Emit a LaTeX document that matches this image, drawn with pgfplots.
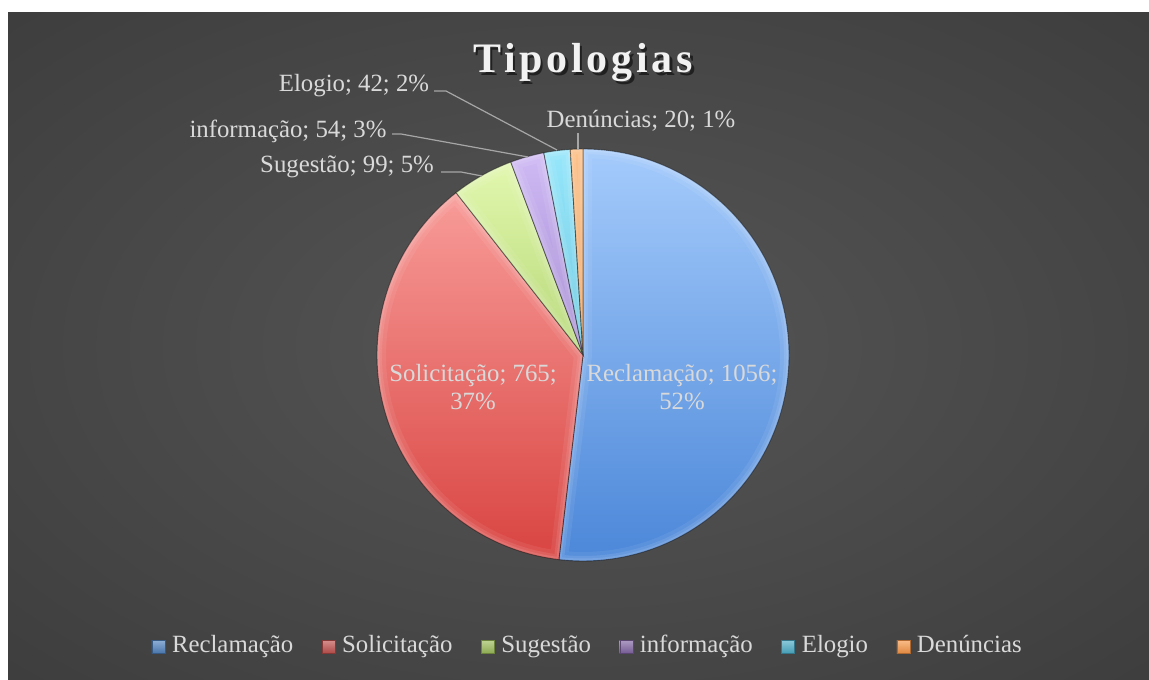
\documentclass[border=0pt]{standalone}
\usepackage{pgfplots}
\pgfplotsset{compat=1.18}
\usepackage{pgfplotstable}
\usepackage{fontspec}
\setmainfont{Liberation Serif}

\definecolor{lblc}{HTML}{D9D9D9}
\definecolor{leadc}{HTML}{A6A6A6}
\definecolor{titlec}{HTML}{F2F2F2}
\definecolor{bgA}{HTML}{565656}
\definecolor{bgB}{HTML}{3E3E3E}
\definecolor{bgC}{HTML}{262626}
% slice gradients (top, bottom)
\definecolor{blT}{HTML}{A6CCFC}\definecolor{blB}{HTML}{4A86D8}
\definecolor{rdT}{HTML}{FCA8A5}\definecolor{rdB}{HTML}{D8423F}
\definecolor{grT}{HTML}{E6FBB4}\definecolor{grB}{HTML}{86B43A}
\definecolor{puT}{HTML}{D2BDF6}\definecolor{puB}{HTML}{7454AC}
\definecolor{cyT}{HTML}{9AE8FC}\definecolor{cyB}{HTML}{28A4C4}
\definecolor{orT}{HTML}{FCC086}\definecolor{orB}{HTML}{DE7620}
% legend colours (Office palette)
\definecolor{oblue}{HTML}{4F81BD}
\definecolor{ored}{HTML}{C0504D}
\definecolor{ogreen}{HTML}{9BBB59}
\definecolor{opurple}{HTML}{8064A2}
\definecolor{ocyan}{HTML}{4BACC6}
\definecolor{oorange}{HTML}{F79646}

\pgfdeclareradialshading{bgshade}{\pgfpoint{0bp}{0bp}}{color(0bp)=(bgA); color(35bp)=(bgB); color(72bp)=(bgC)}

\newcommand\lblfont{\fontsize{12.4}{14.2}\selectfont}

\pgfplotstableread{
name value
Reclamação 1056
Solicitação 765
Sugestão 99
informação 54
Elogio 42
Denúncias 20
}\tipdata

\newcommand\slicepath[2]{(583,324) -- ++(#1:103pt) arc[start angle=#1,end angle=#2,radius=103pt] -- cycle}
\newcommand\pieslice[4]{%
  \begin{scope}
    \clip \slicepath{#1}{#2};
    \shade[top color=#3,bottom color=#4] (370,112) rectangle (796,536);
    \draw[white,opacity=0.07,line width=9pt] \slicepath{#1}{#2};
    \draw[white,opacity=0.09,line width=5pt] \slicepath{#1}{#2};
    \draw[white,opacity=0.10,line width=2.5pt] \slicepath{#1}{#2};
  \end{scope}
  \draw[black,opacity=0.45,line width=0.45pt] \slicepath{#1}{#2};
}

\pgfplotsset{lgimg/.style={legend image code/.code={%
  \shade[top color=#1!65!white,bottom color=#1!90!black,draw=#1!70!black,line width=0.2pt] (0pt,-3.3pt) rectangle (6.5pt,3.3pt);}}}

\begin{document}
\begin{tikzpicture}
\pgfplotstablegetelem{0}{value}\of\tipdata \pgfmathsetmacro\vA{\pgfplotsretval}
\pgfplotstablegetelem{1}{value}\of\tipdata \pgfmathsetmacro\vB{\pgfplotsretval}
\pgfplotstablegetelem{2}{value}\of\tipdata \pgfmathsetmacro\vC{\pgfplotsretval}
\pgfplotstablegetelem{3}{value}\of\tipdata \pgfmathsetmacro\vD{\pgfplotsretval}
\pgfplotstablegetelem{4}{value}\of\tipdata \pgfmathsetmacro\vE{\pgfplotsretval}
\pgfplotstablegetelem{5}{value}\of\tipdata \pgfmathsetmacro\vF{\pgfplotsretval}
\pgfmathsetmacro\tot{\vA+\vB+\vC+\vD+\vE+\vF}
\pgfmathsetmacro\aA{90}
\pgfmathsetmacro\aB{\aA-360*(\vA/\tot)}
\pgfmathsetmacro\aC{\aB-360*(\vB/\tot)}
\pgfmathsetmacro\aD{\aC-360*(\vC/\tot)}
\pgfmathsetmacro\aE{\aD-360*(\vD/\tot)}
\pgfmathsetmacro\aF{\aE-360*(\vE/\tot)}
\pgfmathsetmacro\aG{\aF-360*(\vF/\tot)}
\begin{axis}[
  x=0.5pt, y=0.5pt,
  xmin=0, xmax=1149, ymin=0, ymax=679,
  enlargelimits=false,
  hide axis, clip=false,
  legend columns=6,
  legend style={at={(0.5117,0.0471)}, anchor=center, draw=none, fill=none,
    text=lblc, font=\lblfont, nodes={inner sep=1.3pt, text height=8.6pt, text depth=3pt},
    /tikz/every odd column/.append style={column sep=2.2pt},
    /tikz/every even column/.append style={column sep=13pt}},
]
\fill[white] (0,0) rectangle (1149,679);
\shade[shading=bgshade] (8,0) rectangle (1149,666);

\pieslice{\aA}{\aB}{blT}{blB}
\pieslice{\aB}{\aC}{rdT}{rdB}
\pieslice{\aC}{\aD}{grT}{grB}
\pieslice{\aD}{\aE}{puT}{puB}
\pieslice{\aE}{\aF}{cyT}{cyB}
\pieslice{\aF}{\aG}{orT}{orB}

% title
\node[anchor=base, text=black, text opacity=0.55, font={\fontsize{21}{25}\selectfont\bfseries\addfontfeatures{LetterSpace=9}}] at (585.5,603.5) {Tipologias};
\node[anchor=base, text=titlec, font={\fontsize{21}{25}\selectfont\bfseries\addfontfeatures{LetterSpace=9}}] at (583,606) {Tipologias};

% labels inside
\node[align=center, text=lblc, font=\lblfont] at (682,292) {Reclamação; 1056;\\52\%};
\node[align=center, text=lblc, font=\lblfont] at (473,292) {Solicitação; 765;\\37\%};
% outside labels
\node[text=lblc, font=\lblfont, inner sep=0pt] at (347,512) {Sugestão; 99; 5\%};
\node[text=lblc, font=\lblfont, inner sep=0pt] at (288,548) {informação; 54; 3\%};
\node[text=lblc, font=\lblfont, inner sep=0pt] at (354,593) {Elogio; 42; 2\%};
\node[text=lblc, font=\lblfont, inner sep=0pt] at (641,558) {Denúncias; 20; 1\%};
% leader lines
\draw[leadc, line width=0.6pt] (441,507) -- (461,507) -- (482,503);
\draw[leadc, line width=0.6pt] (392,545) -- (401,545) -- (528,522);
\draw[leadc, line width=0.6pt] (434,588) -- (446,588) -- (557,529);
\draw[leadc, line width=0.6pt] (578,546) -- (578,529);

\addlegendimage{lgimg=oblue}\addlegendentry{Reclamação}
\addlegendimage{lgimg=ored}\addlegendentry{Solicitação}
\addlegendimage{lgimg=ogreen}\addlegendentry{Sugestão}
\addlegendimage{lgimg=opurple}\addlegendentry{informação}
\addlegendimage{lgimg=ocyan}\addlegendentry{Elogio}
\addlegendimage{lgimg=oorange}\addlegendentry{Denúncias}
\end{axis}
\pgfresetboundingbox
\path (0,0) rectangle (574.5pt,339.5pt);
\end{tikzpicture}
\end{document}
